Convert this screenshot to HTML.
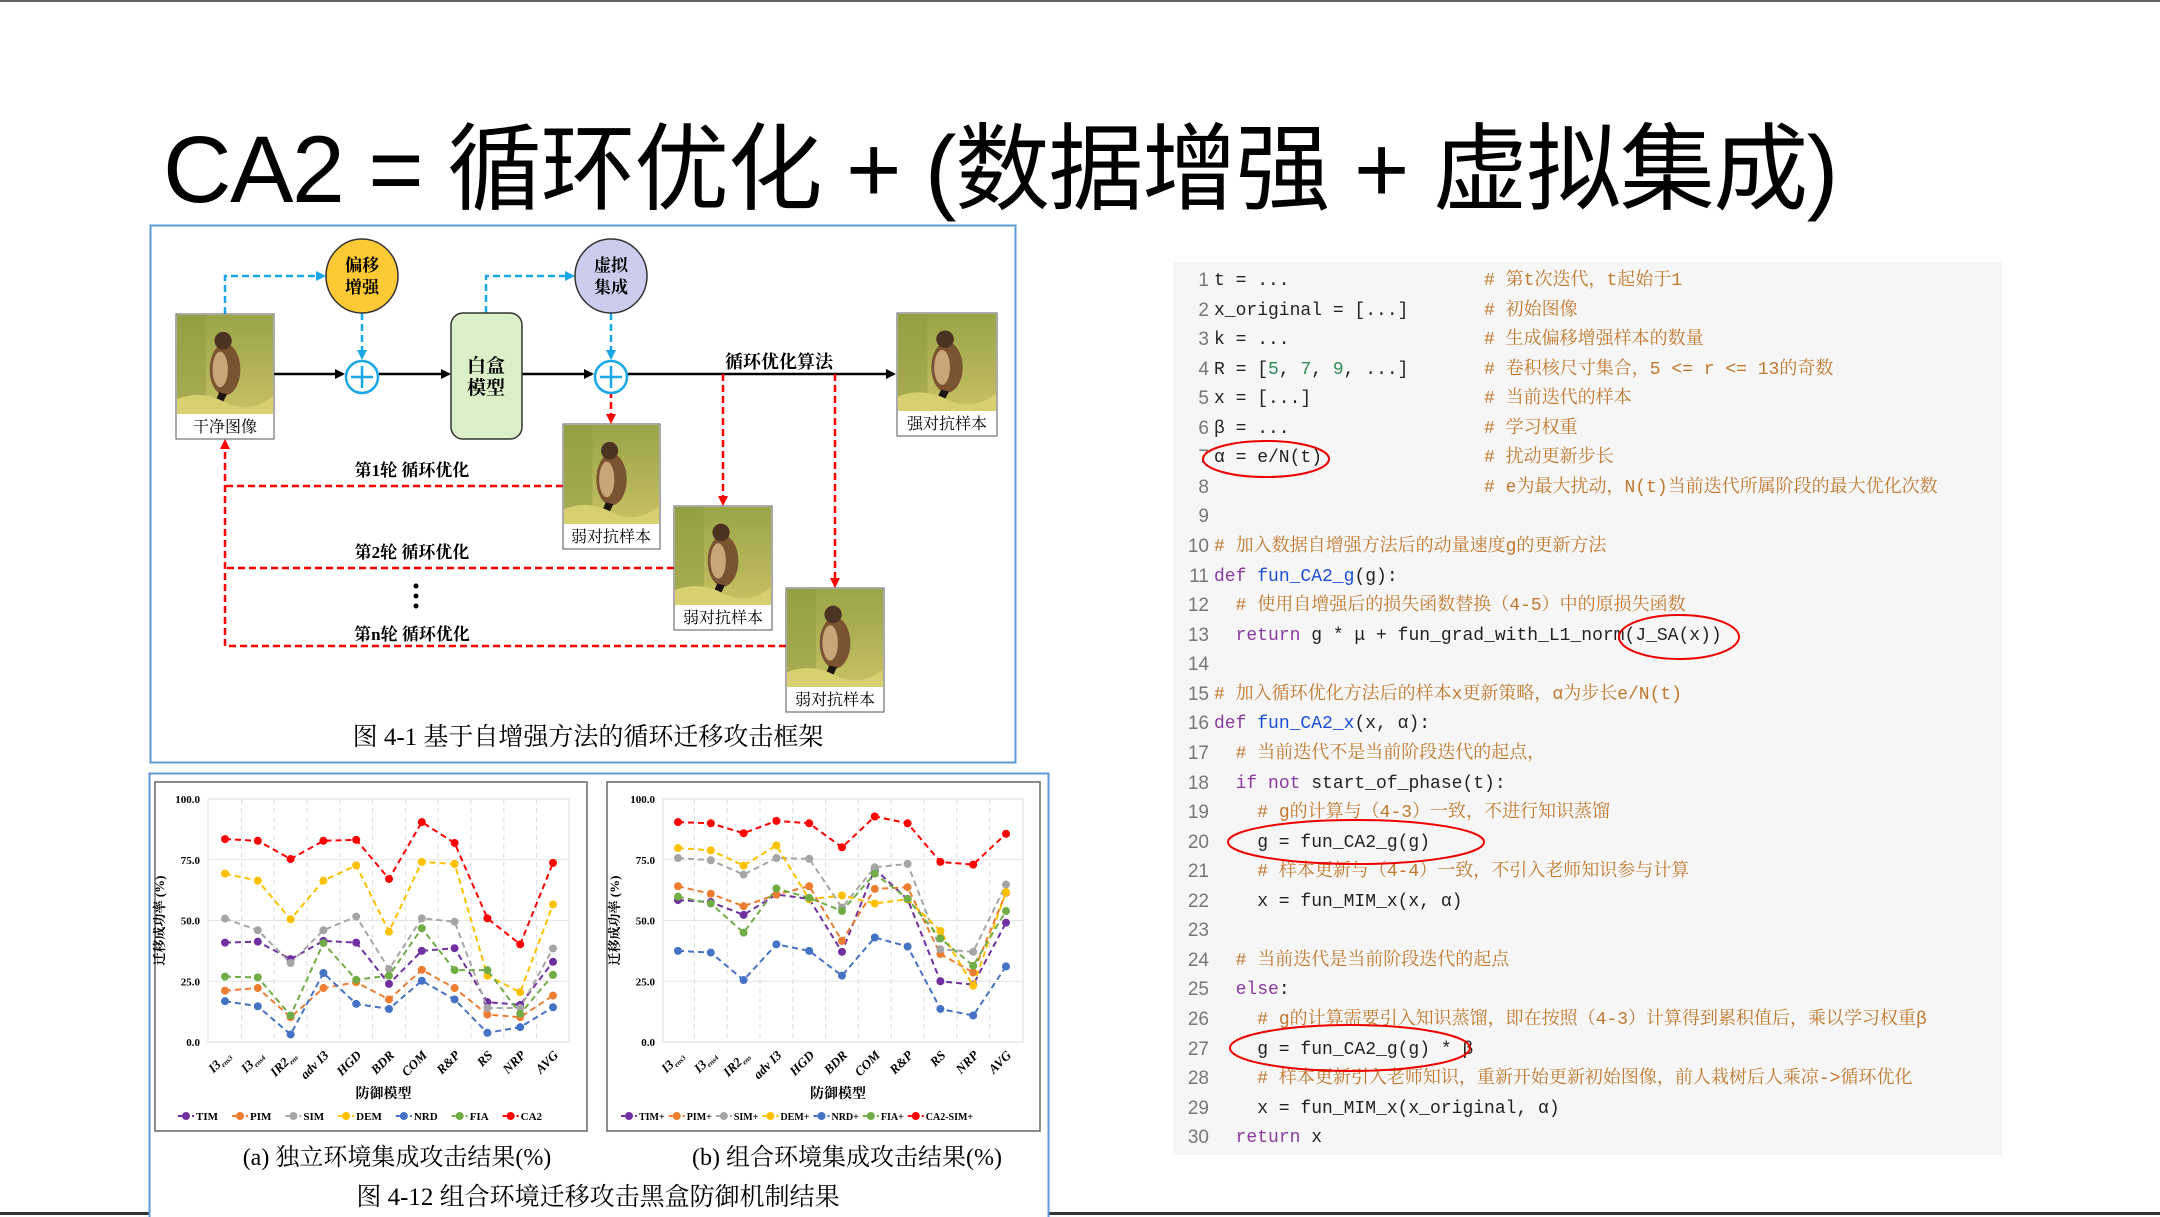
<!DOCTYPE html>
<html><head><meta charset="utf-8">
<style>
html,body{margin:0;padding:0;background:#fff;}
body{width:2160px;height:1217px;position:relative;overflow:hidden;font-family:"Liberation Sans","Noto Sans CJK SC",sans-serif;}
#title{position:absolute;left:163px;top:110px;font-size:95px;line-height:120px;white-space:nowrap;color:#000;letter-spacing:-1.5px;}
#code{position:absolute;left:1173px;top:262px;width:829px;height:893px;background:#f6f6f6;}
.ln{position:absolute;left:0;width:36px;text-align:right;font-family:"Liberation Sans",sans-serif;font-size:19px;line-height:24px;color:#777;}
.cl{position:absolute;left:41px;white-space:pre;font-family:"Liberation Mono","Noto Sans CJK SC",monospace;font-size:18px;line-height:24px;color:#222;}
.c{color:#c0782c;font-family:"Liberation Mono","Noto Serif CJK SC",monospace;}
.k{color:#8a3aa0;}
.f{color:#1a4fd6;}
.n{color:#2e8b57;}
svg text{font-family:"Liberation Serif","Noto Serif CJK SC",serif;}
</style></head>
<body>
<div style="position:absolute;left:0;top:0;width:2160px;height:2px;background:#666;"></div>
<div style="position:absolute;left:0;top:1212px;width:2160px;height:3px;background:#333;"></div>
<div id="title">CA2 = 循环优化 + (数据增强 + 虚拟集成)</div>

<div id="code"></div>

<svg id="main" width="2160" height="1217" style="position:absolute;left:0;top:0;">
<defs>
<marker id="ab" markerWidth="10" markerHeight="10" refX="8" refY="5" orient="auto" markerUnits="userSpaceOnUse"><path d="M0,0 L10,5 L0,10 z" fill="#000"/></marker>
<marker id="ar" markerWidth="10" markerHeight="10" refX="8" refY="5" orient="auto" markerUnits="userSpaceOnUse"><path d="M0,0 L10,5 L0,10 z" fill="#f00"/></marker>
<marker id="ac" markerWidth="10" markerHeight="10" refX="8" refY="5" orient="auto" markerUnits="userSpaceOnUse"><path d="M0,0 L10,5 L0,10 z" fill="#1aa7e8"/></marker>
<linearGradient id="bg" x1="0" y1="0" x2="0" y2="1"><stop offset="0" stop-color="#9aa548"/><stop offset="0.6" stop-color="#b5b45a"/><stop offset="1" stop-color="#c9c264"/></linearGradient>
<symbol id="bird" viewBox="0 0 100 100" preserveAspectRatio="none">
<rect width="100" height="100" fill="url(#bg)"/>
<rect x="0" y="0" width="30" height="100" fill="#8d9a40" opacity="0.5"/>
<ellipse cx="50" cy="55" rx="16" ry="26" fill="#7a5430"/>
<ellipse cx="45" cy="55" rx="8" ry="18" fill="#c9a67a"/>
<circle cx="48" cy="26" r="9" fill="#4a3320"/>
<path d="M44,78 L36,96 L44,96 L52,80 z" fill="#1e1410"/>
<path d="M0,85 Q25,75 50,88 T100,82 L100,100 L0,100 z" fill="#d8d070"/>
</symbol>
</defs>

<g>
<rect x="150.5" y="225.5" width="865" height="537" fill="#fff" stroke="#5b9bd5" stroke-width="2"/>
<path d="M225,314 V276 H324" fill="none" stroke="#1aa7e8" stroke-width="2.5" stroke-dasharray="7,4" marker-end="url(#ac)"/>
<path d="M362,313 V358" fill="none" stroke="#1aa7e8" stroke-width="2.5" stroke-dasharray="7,4" marker-end="url(#ac)"/>
<path d="M486,313 V276 H573" fill="none" stroke="#1aa7e8" stroke-width="2.5" stroke-dasharray="7,4" marker-end="url(#ac)"/>
<path d="M611,313 V358" fill="none" stroke="#1aa7e8" stroke-width="2.5" stroke-dasharray="7,4" marker-end="url(#ac)"/>
<path d="M274,374 H343" stroke="#000" stroke-width="2.5" marker-end="url(#ab)"/>
<path d="M379,374 H449" stroke="#000" stroke-width="2.5" marker-end="url(#ab)"/>
<path d="M522,374 H592" stroke="#000" stroke-width="2.5" marker-end="url(#ab)"/>
<path d="M628,374 H894" stroke="#000" stroke-width="2.5" marker-end="url(#ab)"/>
<path d="M611,391 V422" stroke="#f00" stroke-width="2.5" stroke-dasharray="7,4" marker-end="url(#ar)"/>
<path d="M723,374 V504" stroke="#f00" stroke-width="2.5" stroke-dasharray="7,4" marker-end="url(#ar)"/>
<path d="M835,374 V586" stroke="#f00" stroke-width="2.5" stroke-dasharray="7,4" marker-end="url(#ar)"/>
<path d="M563,486 H225 M674,568 H225 M786,646 H225 V441" fill="none" stroke="#f00" stroke-width="2.5" stroke-dasharray="7,4" marker-end="url(#ar)"/>
<ellipse cx="362" cy="276" rx="36" ry="37" fill="#fdc935" stroke="#333" stroke-width="1.5"/>
<text x="362" y="271" font-size="17" font-weight="bold" text-anchor="middle">偏移</text>
<text x="362" y="293" font-size="17" font-weight="bold" text-anchor="middle">增强</text>
<ellipse cx="611" cy="276" rx="36" ry="37" fill="#ccccee" stroke="#333" stroke-width="1.5"/>
<text x="611" y="271" font-size="17" font-weight="bold" text-anchor="middle">虚拟</text>
<text x="611" y="293" font-size="17" font-weight="bold" text-anchor="middle">集成</text>
<g><circle cx="362" cy="377" r="16" fill="#fff" stroke="#1aa7e8" stroke-width="2.5"/><path d="M351,377 H373 M362,366 V388" stroke="#1aa7e8" stroke-width="2.5"/></g>
<g><circle cx="611" cy="377" r="16" fill="#fff" stroke="#1aa7e8" stroke-width="2.5"/><path d="M600,377 H622 M611,366 V388" stroke="#1aa7e8" stroke-width="2.5"/></g>
<rect x="451" y="313" width="71" height="126" rx="12" fill="#dbefc9" stroke="#333" stroke-width="1.5"/>
<text x="486" y="372" font-size="19" font-weight="bold" text-anchor="middle">白盒</text>
<text x="486" y="394" font-size="19" font-weight="bold" text-anchor="middle">模型</text>
<text x="779" y="368" font-size="18" font-weight="bold" text-anchor="middle">循环优化算法</text>
<g><rect x="176" y="314" width="98" height="125" fill="#fff" stroke="#555"/><use href="#bird" x="177" y="315" width="96" height="99"/><text x="225" y="432" font-size="16" text-anchor="middle">干净图像</text></g>
<g><rect x="897" y="313" width="100" height="123" fill="#fff" stroke="#555"/><use href="#bird" x="898" y="314" width="98" height="97"/><text x="947" y="429" font-size="16" text-anchor="middle">强对抗样本</text></g>
<g><rect x="563" y="424" width="97" height="125" fill="#fff" stroke="#555"/><use href="#bird" x="564" y="425" width="95" height="99"/><text x="611" y="542" font-size="16" text-anchor="middle">弱对抗样本</text></g>
<g><rect x="674" y="506" width="98" height="124" fill="#fff" stroke="#555"/><use href="#bird" x="675" y="507" width="96" height="98"/><text x="723" y="623" font-size="16" text-anchor="middle">弱对抗样本</text></g>
<g><rect x="786" y="588" width="98" height="124" fill="#fff" stroke="#555"/><use href="#bird" x="787" y="589" width="96" height="98"/><text x="835" y="705" font-size="16" text-anchor="middle">弱对抗样本</text></g>
<text x="412" y="476" font-size="17" font-weight="bold" text-anchor="middle">第1轮 循环优化</text>
<text x="412" y="558" font-size="17" font-weight="bold" text-anchor="middle">第2轮 循环优化</text>
<circle cx="416" cy="586" r="2.5"/><circle cx="416" cy="596" r="2.5"/><circle cx="416" cy="606" r="2.5"/>
<text x="412" y="640" font-size="17" font-weight="bold" text-anchor="middle">第n轮 循环优化</text>
<text x="588" y="745" font-size="25" text-anchor="middle">图 4-1  基于自增强方法的循环迁移攻击框架</text>
</g>

<rect x="149.5" y="773.5" width="899" height="445" fill="#fff" stroke="#5b9bd5" stroke-width="2"/>
<rect x="155" y="782" width="432" height="349" fill="#fff" stroke="#666" stroke-width="1.5"/>
<rect x="607" y="782" width="433" height="349" fill="#fff" stroke="#666" stroke-width="1.5"/>
<g id="chartA"></g>
<g id="chartB"></g>
<text x="397" y="1165" font-size="24" text-anchor="middle">(a) 独立环境集成攻击结果(%)</text>
<text x="847" y="1165" font-size="24" text-anchor="middle">(b) 组合环境集成攻击结果(%)</text>
<text x="598" y="1205" font-size="25" text-anchor="middle">图 4-12  组合环境迁移攻击黑盒防御机制结果</text>

<ellipse cx="1266" cy="459" rx="63" ry="18" fill="none" stroke="#e00" stroke-width="2"/>
<ellipse cx="1679" cy="637" rx="60" ry="22" fill="none" stroke="#e00" stroke-width="2"/>
<ellipse cx="1356" cy="842" rx="128" ry="22" fill="none" stroke="#e00" stroke-width="2"/>
<ellipse cx="1350" cy="1048" rx="120" ry="23" fill="none" stroke="#e00" stroke-width="2"/>
</svg>

<script>
const categories = ["I3|ens3","I3|ens4","IR2|ens","adv I3","HGD","BDR","COM","R&P","RS","NRP","AVG"];
const yTicks = [0, 25, 50, 75, 100];
const yTickLabels = ["0.0","25.0","50.0","75.0","100.0"];
const namesA = ["TIM","PIM","SIM","DEM","NRD","FIA","CA2"];
const namesB = ["TIM+","PIM+","SIM+","DEM+","NRD+","FIA+","CA2-SIM+"];
const seriesColors = ["#7030a0","#ed7d31","#a5a5a5","#ffc000","#4472c4","#70ad47","#ff0000"];
const timA = [40.9,41.3,34.1,41.6,40.9,23.9,37.5,38.6,16.4,15.3,33.0];
const pimA = [21.1,22.2,10.2,22.2,24.6,17.5,29.7,22.2,11.3,10.2,19.1];
const simA = [50.8,46.0,32.5,46.0,51.6,30.0,50.9,49.5,14.0,14.0,38.5];
const demA = [69.3,66.4,50.5,66.4,72.7,45.4,74.1,73.3,27.3,20.5,56.6];
const nrdA = [16.8,14.7,3.1,28.4,15.7,13.6,25.2,17.5,3.8,6.1,14.3];
const fiaA = [26.9,26.6,10.9,40.7,25.6,27.3,46.8,29.6,29.6,11.6,27.6];
const ca2A = [83.5,82.8,75.3,82.8,83.2,67.1,90.5,81.9,50.9,40.2,73.7];
const timB = [58.4,57.6,52.3,60.7,58.9,37.1,71.2,58.7,25.0,23.6,49.1];
const pimB = [64.1,61.0,55.9,60.7,64.1,41.6,63.0,63.7,36.2,28.6,61.4];
const simB = [75.7,74.8,68.9,75.7,75.4,55.3,71.9,73.3,38.2,37.1,64.8];
const demB = [79.8,78.9,72.6,80.9,58.7,60.3,57.0,58.7,45.7,23.2,61.7];
const nrdB = [37.5,36.8,25.5,40.2,37.5,27.3,43.0,39.3,13.6,10.9,31.1];
const fiaB = [59.8,57.0,45.0,63.2,59.3,53.9,69.3,58.9,42.6,31.4,53.9];
const ca2B = [90.5,90.0,85.9,91.0,90.0,80.1,92.8,90.0,74.1,73.0,85.7];

const NS = "http://www.w3.org/2000/svg";
function mk(tag, attrs, parent){const e=document.createElementNS(NS,tag);for(const k in attrs)e.setAttribute(k,attrs[k]);parent.appendChild(e);return e;}

function drawChart(g, cfg, seriesList, names){
  const xs = i => cfg.c0 + i*(cfg.c1-cfg.c0)/(categories.length-1);
  const ys = v => cfg.yb - v/100*(cfg.yb-cfg.yt);
  const step = (cfg.c1-cfg.c0)/(categories.length-1);
  yTicks.forEach((t,i)=>{
    const ln = mk("line",{x1:cfg.px0,x2:cfg.px1,y1:ys(t),y2:ys(t),stroke:i===0?"#bbb":"#e3e3e3","stroke-width":1},g);
    
    
    const tx = mk("text",{x:cfg.px0-8,y:ys(t)+4,"font-size":11,"font-weight":"bold","text-anchor":"end"},g);
    
    
    tx.textContent = yTickLabels[i];
  });
  for(let i=0;i<categories.length-1;i++){
    const vx = xs(i)+step/2;
    const vl = mk("line",{x1:vx,x2:vx,y1:cfg.yt,y2:cfg.yb,stroke:"#ddd","stroke-dasharray":"5,4"},g);
    
    
  }
  mk("rect",{x:cfg.px0,y:cfg.yt,width:cfg.px1-cfg.px0,height:cfg.yb-cfg.yt,fill:"none",stroke:"#ddd"},g);
  categories.forEach((c,i)=>{
    const parts=c.split("|");
    const tx = mk("text",{x:0,y:0,"font-size":13,"font-weight":"bold","font-style":"italic","text-anchor":"end",transform:`translate(${xs(i)+6},${cfg.yb+14}) rotate(-45)`},g);
    
    
    tx.appendChild(document.createTextNode(parts[0]));
    if(parts[1]){const s=mk("tspan",{"font-size":7,dy:3},tx);s.textContent=parts[1];}
  });
  const xt = mk("text",{x:(cfg.px0+cfg.px1)/2-5,y:cfg.yb+56,"font-size":14,"font-weight":"bold","text-anchor":"middle"},g);
  
  
  xt.textContent="防御模型";
  const yt = mk("text",{x:0,y:0,"font-size":13,"font-weight":"bold","text-anchor":"middle",transform:`translate(${cfg.px0-44},${(cfg.yt+cfg.yb)/2}) rotate(-90)`},g);
  
  
  yt.textContent="迁移成功率 (%)";
  seriesList.forEach((vals,si)=>{
    const col=seriesColors[si];
    const pts=vals.map((v,i)=>xs(i)+","+ys(v)).join(" ");
    const pl = mk("polyline",{points:pts,fill:"none",stroke:col,"stroke-width":2,"stroke-dasharray":"6,4"},g);
    
    
    vals.forEach((v,i)=>{
      const c = mk("circle",{cx:xs(i),cy:ys(v),r:4,fill:col},g);
      
      
    });
  });
  let lx=cfg.l0;
  names.forEach((n,si)=>{
    const lg = mk("g",{},g);
    
    
    mk("line",{x1:lx,x2:lx+16,y1:cfg.ly,y2:cfg.ly,stroke:seriesColors[si],"stroke-width":2,"stroke-dasharray":"4,3"},lg);
    mk("circle",{cx:lx+8,cy:cfg.ly,r:4,fill:seriesColors[si]},lg);
    const t=mk("text",{x:lx+18,y:cfg.ly+4,"font-size":cfg.lf,"font-weight":"bold"},lg);
    t.textContent=n;
    lx += 18 + t.getComputedTextLength() + cfg.gap;
  });
}
drawChart(document.getElementById("chartA"),{px0:208,px1:569,c0:225,c1:553,yt:799,yb:1042,l0:178,ly:1116,lf:11,gap:14},[timA,pimA,simA,demA,nrdA,fiaA,ca2A],namesA);
drawChart(document.getElementById("chartB"),{px0:663,px1:1023,c0:678,c1:1006,yt:799,yb:1042,l0:621,ly:1116,lf:10,gap:4},[timB,pimB,simB,demB,nrdB,fiaB,ca2B],namesB);

const L = [
 't = ...                  <span class="c"># 第t次迭代，t起始于1</span>',
 'x_original = [...]       <span class="c"># 初始图像</span>',
 'k = ...                  <span class="c"># 生成偏移增强样本的数量</span>',
 'R = [<span class="n">5</span>, <span class="n">7</span>, <span class="n">9</span>, ...]       <span class="c"># 卷积核尺寸集合，5 &lt;= r &lt;= 13的奇数</span>',
 'x = [...]                <span class="c"># 当前迭代的样本</span>',
 'β = ...                  <span class="c"># 学习权重</span>',
 'α = e/N(t)               <span class="c"># 扰动更新步长</span>',
 '                         <span class="c"># e为最大扰动，N(t)当前迭代所属阶段的最大优化次数</span>',
 '',
 '<span class="c"># 加入数据自增强方法后的动量速度g的更新方法</span>',
 '<span class="k">def</span> <span class="f">fun_CA2_g</span>(g):',
 '  <span class="c"># 使用自增强后的损失函数替换（4-5）中的原损失函数</span>',
 '  <span class="k">return</span> g * μ + fun_grad_with_L1_norm(J_SA(x))',
 '',
 '<span class="c"># 加入循环优化方法后的样本x更新策略，α为步长e/N(t)</span>',
 '<span class="k">def</span> <span class="f">fun_CA2_x</span>(x, α):',
 '  <span class="c"># 当前迭代不是当前阶段迭代的起点，</span>',
 '  <span class="k">if not</span> start_of_phase(t):',
 '    <span class="c"># g的计算与（4-3）一致，不进行知识蒸馏</span>',
 '    g = fun_CA2_g(g)',
 '    <span class="c"># 样本更新与（4-4）一致，不引入老师知识参与计算</span>',
 '    x = fun_MIM_x(x, α)',
 '',
 '  <span class="c"># 当前迭代是当前阶段迭代的起点</span>',
 '  <span class="k">else</span>:',
 '    <span class="c"># g的计算需要引入知识蒸馏，即在按照（4-3）计算得到累积值后，乘以学习权重β</span>',
 '    g = fun_CA2_g(g) * β',
 '    <span class="c"># 样本更新引入老师知识，重新开始更新初始图像，前人栽树后人乘凉->循环优化</span>',
 '    x = fun_MIM_x(x_original, α)',
 '  <span class="k">return</span> x'
];
const code=document.getElementById("code");
L.forEach((s,i)=>{
  const top = 19 + i*29.56 - 12;
  const n=document.createElement("div");
  n.className="ln"; n.style.top=top+"px"; n.textContent=String(i+1);
  
  
  code.appendChild(n);
  const d=document.createElement("div");
  d.className="cl"; d.style.top=top+"px"; d.innerHTML=s;
  
  
  code.appendChild(d);
});
</script>
</body></html>
